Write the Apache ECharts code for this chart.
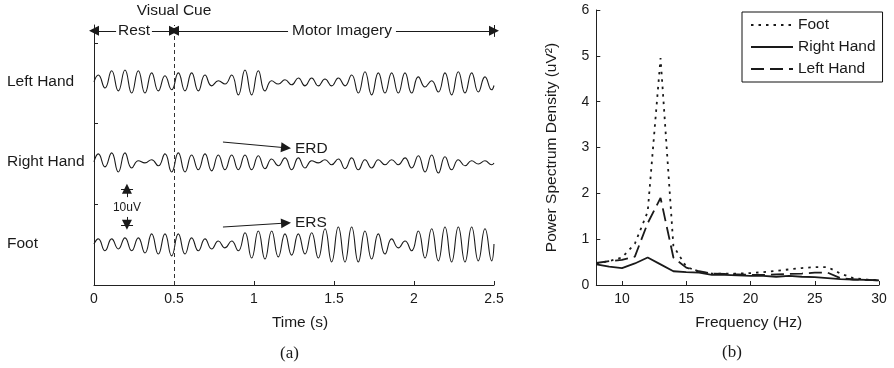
<!DOCTYPE html>
<html>
<head>
<meta charset="utf-8">
<script src="https://cdn.jsdelivr.net/npm/echarts@6/dist/echarts.min.js"></script>
<style>
  html, body { margin: 0; background: #fff; }
  #chart { width: 894px; height: 368px; }
</style>
</head>
<body>
<div id="chart"></div>
<script>
// ---- (a) EEG traces ----
// each list: value at t=0, then alternating peak/trough of the ~12 Hz rhythm (uV), then value at t=2.5
const TRACE_NAMES = ['Left Hand', 'Right Hand', 'Foot']
const TRACE_OFFSETS = [56.4, 34.2, 11.4] // uV above the time axis
const FIRST_PEAK = 0.027
const HALF_PERIOD = 1 / 24

const LEFT_HAND = [0,
  1.9, -1.7, 3.1, -2.5, 3.3, -3.1, 3.1, -3.1, 2.5, -2.5,
  1.7, -2.2, 2.5, -2.5, 2.5, -2.5, 1.9, -1.1, 0.3, -0.6,
  1.9, -3.6, 3.3, -3.6, 3.1, -2.5, 0.3, -0.6, 0.6, -0.8,
  1.1, -1.1, 1.1, -1.1, 0.8, -1.1, 1.1, -1.1, 1.9, -3.1,
  2.8, -3.6, 2.5, -3.1, 2.5, -3.1, 2.5, -3.1, 1.4, -1.4,
  0.3, -2.8, 2.5, -3.6, 2.8, -3.1, 2.5, -2.8, 1.4, -2.2,
  -1.0]
const RIGHT_HAND = [0,
  2.2, -1.4, 2.5, -2.8, 2.5, -1.7, 0.3, -0.3, 0.6, -1.1,
  2.2, -2.8, 2.5, -2.8, 1.9, -2.2, 2.2, -2.5, 1.9, -2.2,
  1.9, -2.2, 1.9, -2.2, 1.7, -1.9, 0.8, -1.1, 1.1, -2.2,
  1.1, -1.7, 0.3, -0.3, 0.6, -0.8, 0.8, -1.9, 1.1, -2.2,
  0.6, -1.7, 0.6, -0.8, 0.6, -0.8, 1.1, -1.7, 1.7, -2.8,
  1.9, -3.1, 1.4, -2.2, 0.6, -1.1, 0.3, -0.6, 0.3, -0.8,
  -0.3]
const FOOT = [0,
  1.4, -1.9, 1.4, -1.4, 1.7, -1.9, 1.7, -2.5, 2.8, -2.8,
  2.8, -3.3, 2.8, -2.8, 1.7, -1.9, 1.4, -1.4, 0.8, -1.1,
  0.8, -1.9, 3.1, -3.9, 3.6, -4.2, 3.6, -3.6, 2.8, -3.1,
  2.8, -2.8, 3.1, -3.9, 4.2, -5.0, 4.7, -5.0, 4.7, -5.0,
  3.6, -4.2, 2.8, -2.8, 1.4, -1.1, 0.8, -1.9, 3.6, -3.9,
  4.2, -4.7, 4.7, -5.0, 4.7, -5.0, 4.7, -4.7, 4.2, -4.7,
  0]
const TRACES = [LEFT_HAND, RIGHT_HAND, FOOT]
const TIME_TICKS = [0, 0.5, 1, 1.5, 2, 2.5]

// ---- (b) power spectrum ----
const FREQS = [8, 9, 10, 11, 12, 13, 14, 15, 16, 17, 18, 19, 20, 21, 22, 23, 24, 25, 26, 27, 28, 29, 30]
const PSD_FOOT = [0.47, 0.52, 0.6, 0.9, 1.6, 4.95, 0.85, 0.4, 0.28, 0.25, 0.25, 0.25, 0.26, 0.28, 0.31, 0.34, 0.37, 0.39, 0.39, 0.25, 0.15, 0.12, 0.1]
const PSD_RIGHT = [0.45, 0.4, 0.37, 0.47, 0.6, 0.45, 0.3, 0.28, 0.27, 0.22, 0.22, 0.21, 0.2, 0.2, 0.18, 0.2, 0.18, 0.17, 0.15, 0.13, 0.12, 0.11, 0.1]
const PSD_LEFT = [0.48, 0.52, 0.55, 0.62, 1.35, 1.9, 0.6, 0.38, 0.3, 0.25, 0.24, 0.23, 0.22, 0.22, 0.23, 0.24, 0.25, 0.27, 0.27, 0.15, 0.12, 0.11, 0.1]
const FREQ_TICKS = [10, 15, 20, 25, 30]

const FONT = 'Liberation Sans, Arial, sans-serif'
const INK = '#1a1a1a'
const HEAD = 'path://M5,0 L10,12 L0,12 Z' // arrow head, tip up

const chart = echarts.init(document.getElementById('chart'))

const traceTime = (i, n) => (i === 0 ? 0 : i === n - 1 ? 2.5 : FIRST_PEAK + (i - 1) * HALF_PERIOD)

const eegSeries = TRACES.map((vals, j) => ({
  name: 'eeg ' + TRACE_NAMES[j],
  type: 'line',
  xAxisIndex: 0,
  yAxisIndex: 0,
  smooth: 0.5,
  symbol: 'none',
  lineStyle: { color: INK, width: 1.1 },
  data: vals.map((v, i) => [traceTime(i, vals.length), TRACE_OFFSETS[j] + v]),
}))

const arrowLine = (a, b, sa, sb, extra) => [
  Object.assign({ coord: a, symbol: sa }, extra || {}),
  { coord: b, symbol: sb },
]

const textLabel = (text, pos, more) => Object.assign({
  show: true, formatter: text, position: pos,
  color: INK, fontFamily: FONT, fontSize: 15.5,
}, more || {})

const onLine = { backgroundColor: '#fff', distance: 0, verticalAlign: 'middle' }

const annotations = {
  name: 'annotations',
  type: 'line',
  xAxisIndex: 0,
  yAxisIndex: 0,
  data: [],
  markLine: {
    silent: true,
    symbol: ['none', 'none'],
    symbolSize: 10,
    lineStyle: { color: INK, width: 1, type: 'solid' },
    label: { show: false },
    data: [
      [{ coord: [0.5, 0], symbol: 'none', lineStyle: { type: [4, 3], color: '#333' },
         label: textLabel('Visual Cue', 'end', { distance: 6 }) },
       { coord: [0.5, 72.2], symbol: 'none' }],
      arrowLine([0, 70.6], [0.5, 70.6], HEAD, HEAD,
        { label: textLabel('Rest', 'middle', Object.assign({ padding: [0, 2] }, onLine)) }),
      arrowLine([0.5, 70.6], [2.5, 70.6], HEAD, HEAD,
        { label: textLabel('Motor Imagery', 'middle', Object.assign({ padding: [0, 4], offset: [8, 0] }, onLine)) }),
      arrowLine([2.5, 68.9], [2.5, 72.2], 'none', 'none'),
      arrowLine([0.806, 39.7], [1.2, 38.1], 'none', HEAD, { label: textLabel('ERD', 'end', { distance: 9 }) }),
      arrowLine([0.806, 16.1], [1.2, 17.2], 'none', HEAD, { label: textLabel('ERS', 'end', { distance: 9 }) }),
      arrowLine([0.169, 26.7], [0.244, 26.7], 'none', 'none'),
      arrowLine([0.206, 24.4], [0.206, 26.7], 'none', HEAD),
      arrowLine([0.169, 16.7], [0.244, 16.7], 'none', 'none'),
      arrowLine([0.206, 18.9], [0.206, 16.7], 'none', HEAD),
    ],
  },
  markPoint: {
    silent: true,
    symbol: 'rect',
    symbolSize: 1,
    itemStyle: { color: 'transparent' },
    data: [{ coord: [0.206, 21.4],
             label: { show: true, position: 'inside', formatter: '10uV', color: INK, fontFamily: FONT, fontSize: 12 } }],
  },
}

const psdSeries = [
  { name: 'Foot', data: PSD_FOOT, type: [2.5, 5] },
  { name: 'Right Hand', data: PSD_RIGHT, type: 'solid' },
  { name: 'Left Hand', data: PSD_LEFT, type: [13, 6] },
].map((s) => ({
  name: s.name,
  type: 'line',
  xAxisIndex: 1,
  yAxisIndex: 1,
  symbol: 'none',
  lineStyle: { color: INK, width: 1.8, type: s.type },
  itemStyle: { color: INK },
  data: FREQS.map((f, i) => [f, s.data[i]]),
}))

const axisCommon = {
  axisLine: { show: true, lineStyle: { color: '#222', width: 1 } },
  axisTick: { show: true, inside: true, length: 4, lineStyle: { color: '#222' } },
  axisLabel: { color: INK, fontFamily: FONT, fontSize: 14, margin: 7 },
  splitLine: { show: false },
  nameTextStyle: { color: INK, fontFamily: FONT, fontSize: 15.5 },
  nameLocation: 'middle',
}

chart.setOption({
  animation: false,
  backgroundColor: '#fff',
  grid: [
    { left: 94, top: 25, width: 400, height: 260 },
    { left: 596.3, top: 10, width: 282.7, height: 275 },
  ],
  legend: {
    data: ['Foot', 'Right Hand', 'Left Hand'],
    orient: 'vertical',
    left: 742,
    top: 12,
    padding: [5, 7, 5, 8],
    itemWidth: 42,
    itemHeight: 14,
    itemGap: 6,
    borderColor: '#111',
    borderWidth: 1,
    backgroundColor: '#fff',
    itemStyle: { opacity: 0 },
    textStyle: { color: INK, fontFamily: FONT, fontSize: 15.5 },
    selectedMode: false,
  },
  xAxis: [
    Object.assign({}, axisCommon, {
      gridIndex: 0, type: 'value', min: 0, max: 2.5, interval: 0.5,
      name: 'Time (s)', nameGap: 30,
      nameTextStyle: Object.assign({}, axisCommon.nameTextStyle, { padding: [0, 0, 0, 12] }),
      axisTick: Object.assign({}, axisCommon.axisTick, { customValues: TIME_TICKS }),
      axisLabel: Object.assign({}, axisCommon.axisLabel, { customValues: TIME_TICKS }),
    }),
    Object.assign({}, axisCommon, {
      gridIndex: 1, type: 'value', min: 8, max: 30,
      name: 'Frequency (Hz)', nameGap: 30,
      nameTextStyle: Object.assign({}, axisCommon.nameTextStyle, { padding: [0, 0, 0, 22] }),
      axisTick: Object.assign({}, axisCommon.axisTick, { customValues: FREQ_TICKS }),
      axisLabel: Object.assign({}, axisCommon.axisLabel, { customValues: FREQ_TICKS }),
    }),
  ],
  yAxis: [
    Object.assign({}, axisCommon, {
      gridIndex: 0, type: 'value', min: 0, max: 72.2,
      axisTick: Object.assign({}, axisCommon.axisTick, { customValues: [22.4, 44.8, 67.2] }),
      axisLabel: Object.assign({}, axisCommon.axisLabel, {
        customValues: TRACE_OFFSETS, align: 'left', margin: 87, fontSize: 15.5,
        formatter: (v) => TRACE_NAMES[TRACE_OFFSETS.indexOf(v)],
      }),
    }),
    Object.assign({}, axisCommon, {
      gridIndex: 1, type: 'value', min: 0, max: 6, interval: 1,
      name: 'Power Spectrum Density (uV²)', nameGap: 37,
    }),
  ],
  graphic: [
    { type: 'text', left: 280, top: 345, style: { text: '(a)', fill: INK, font: '17px "Liberation Serif", serif' } },
    { type: 'text', left: 722, top: 344, style: { text: '(b)', fill: INK, font: '17px "Liberation Serif", serif' } },
  ],
  series: eegSeries.concat([annotations], psdSeries),
})
</script>
</body>
</html>
